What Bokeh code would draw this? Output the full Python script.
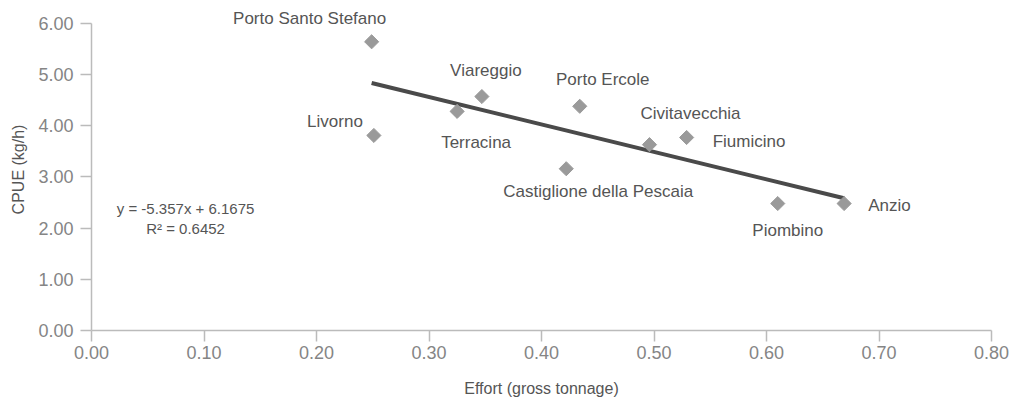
from bokeh.plotting import figure
from bokeh.models import Range1d, FixedTicker, Label, ColumnDataSource, CustomJSTickFormatter
from bokeh.embed import file_html
from bokeh.resources import INLINE
from bokeh.core.properties import value
import math

# Data
ports = ["Porto Santo Stefano", "Livorno", "Terracina", "Viareggio", "Castiglione della Pescaia",
         "Porto Ercole", "Civitavecchia", "Fiumicino", "Piombino", "Anzio"]
effort = [0.249, 0.251, 0.325, 0.347, 0.422, 0.434, 0.496, 0.529, 0.610, 0.669]
cpue = [5.64, 3.81, 4.28, 4.57, 3.16, 4.38, 3.63, 3.77, 2.48, 2.48]
slope = -5.357
intercept = 6.1675
r2 = 0.6452
x_ticks = [0.0, 0.1, 0.2, 0.3, 0.4, 0.5, 0.6, 0.7, 0.8]
y_ticks = [0, 1, 2, 3, 4, 5, 6]

# label placement (pixels relative to point) and alignment
lab_dx = [-62, -11, -16, 4, 32, 23, 41, 26, 10, 24]
lab_dy = [-23, -14, 31, -26, 23, -27, -31, 4, 27, 2]
lab_align = ["center", "right", "left", "center", "center", "center", "center", "left", "center", "left"]

FONT = "Liberation Sans"
GREY = "#555555"

p = figure(width=1011, height=400, output_backend="svg", toolbar_location=None,
           x_range=Range1d(0, 0.8), y_range=Range1d(0, 6.29),
           min_border_left=91, min_border_right=20, min_border_top=8, min_border_bottom=70)
p.outline_line_color = None
p.grid.grid_line_color = None
p.background_fill_color = "white"

for ax in (p.xaxis[0], p.yaxis[0]):
    ax.axis_line_color = "#bbbbbb"
    ax.axis_line_width = 1.5
    ax.major_tick_line_color = "#bbbbbb"
    ax.major_tick_line_width = 1.5
    ax.major_tick_out = 11
    ax.major_tick_in = 0
    ax.minor_tick_line_color = None
    ax.major_label_text_font = FONT
    ax.major_label_text_font_size = "18px"
    ax.major_label_text_color = "#858585"
    ax.axis_label_text_font = FONT
    ax.axis_label_text_font_size = "16px"
    ax.axis_label_text_font_style = "normal"
    ax.axis_label_text_color = GREY

p.xaxis.ticker = FixedTicker(ticks=x_ticks)
p.yaxis.ticker = FixedTicker(ticks=y_ticks)
p.yaxis.bounds = (0, 6)
p.xaxis.formatter = CustomJSTickFormatter(code="return tick.toFixed(2);")
p.yaxis.formatter = CustomJSTickFormatter(code="return tick.toFixed(2);")
p.xaxis.axis_label = "Effort (gross tonnage)"
p.yaxis.axis_label = "CPUE (kg/h)"
p.xaxis.major_label_standoff = 4
p.yaxis.major_label_standoff = 7
p.xaxis.axis_label_standoff = 18
p.yaxis.axis_label_standoff = 8

src = ColumnDataSource(dict(x=effort, y=cpue, name=ports, dx=lab_dx, dy=lab_dy, align=lab_align))

# trend line
xs = [min(effort), max(effort)]
ys = [slope * v + intercept for v in xs]
p.line(xs, ys, line_color="#4a4a4a", line_width=4)

p.scatter("x", "y", source=src, marker="square", angle=math.pi / 4, size=10,
          fill_color="#9a9a9a", line_color="#9a9a9a")

p.text("x", "y", text="name", source=src, x_offset="dx", y_offset="dy",
       text_align="align", text_baseline="middle",
       text_font=value(FONT), text_font_size="17px", text_color=GREY)

p.add_layout(Label(x=0.0836, y=2.38, text=f"y = {slope}x + {intercept}", text_align="center",
                   text_baseline="middle", text_font=FONT, text_font_size="15px", text_color=GREY))
p.add_layout(Label(x=0.0836, y=1.99, text=f"R² = {r2}", text_align="center",
                   text_baseline="middle", text_font=FONT, text_font_size="15px", text_color=GREY))

open("out.html", "w").write(file_html(p, INLINE))
